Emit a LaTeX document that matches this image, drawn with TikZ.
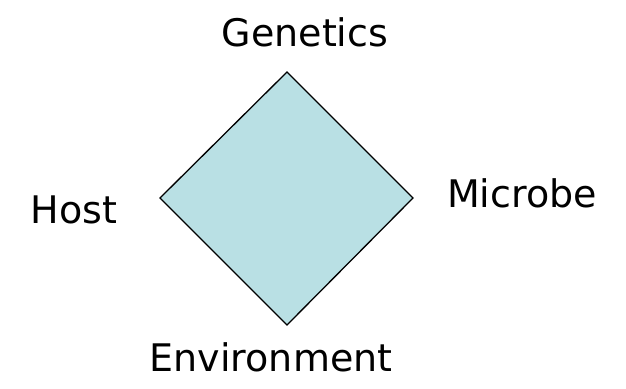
\documentclass[tikz,border=0pt]{standalone}
\usepackage{fontspec}
\setmainfont{DejaVu Sans}
\usepackage{tikz}

\definecolor{squarefill}{RGB}{185,224,228}
\tikzset{label text/.style={font=\fontsize{38}{44}\selectfont, inner sep=0pt}}

\begin{document}
\begin{tikzpicture}[x=1pt, y=1pt]
\useasboundingbox (0, 0) rectangle (626, 388);
\coordinate (top) at (287, 316);
\coordinate (left) at (160, 190);
\coordinate (right) at (413, 190);
\coordinate (bottom) at (287, 63);
\draw[fill=squarefill, line width=1.3pt] (top) -- (right) -- (bottom) -- (left) -- cycle;
\node[label text] (genetics) at (305, 356) {Genetics};
\node[label text] (host) at (74, 178) {Host};
\node[label text] (microbe) at (522, 195) {Microbe};
\node[label text] (environment) at (271, 31) {Environment};
\end{tikzpicture}
\end{document}
